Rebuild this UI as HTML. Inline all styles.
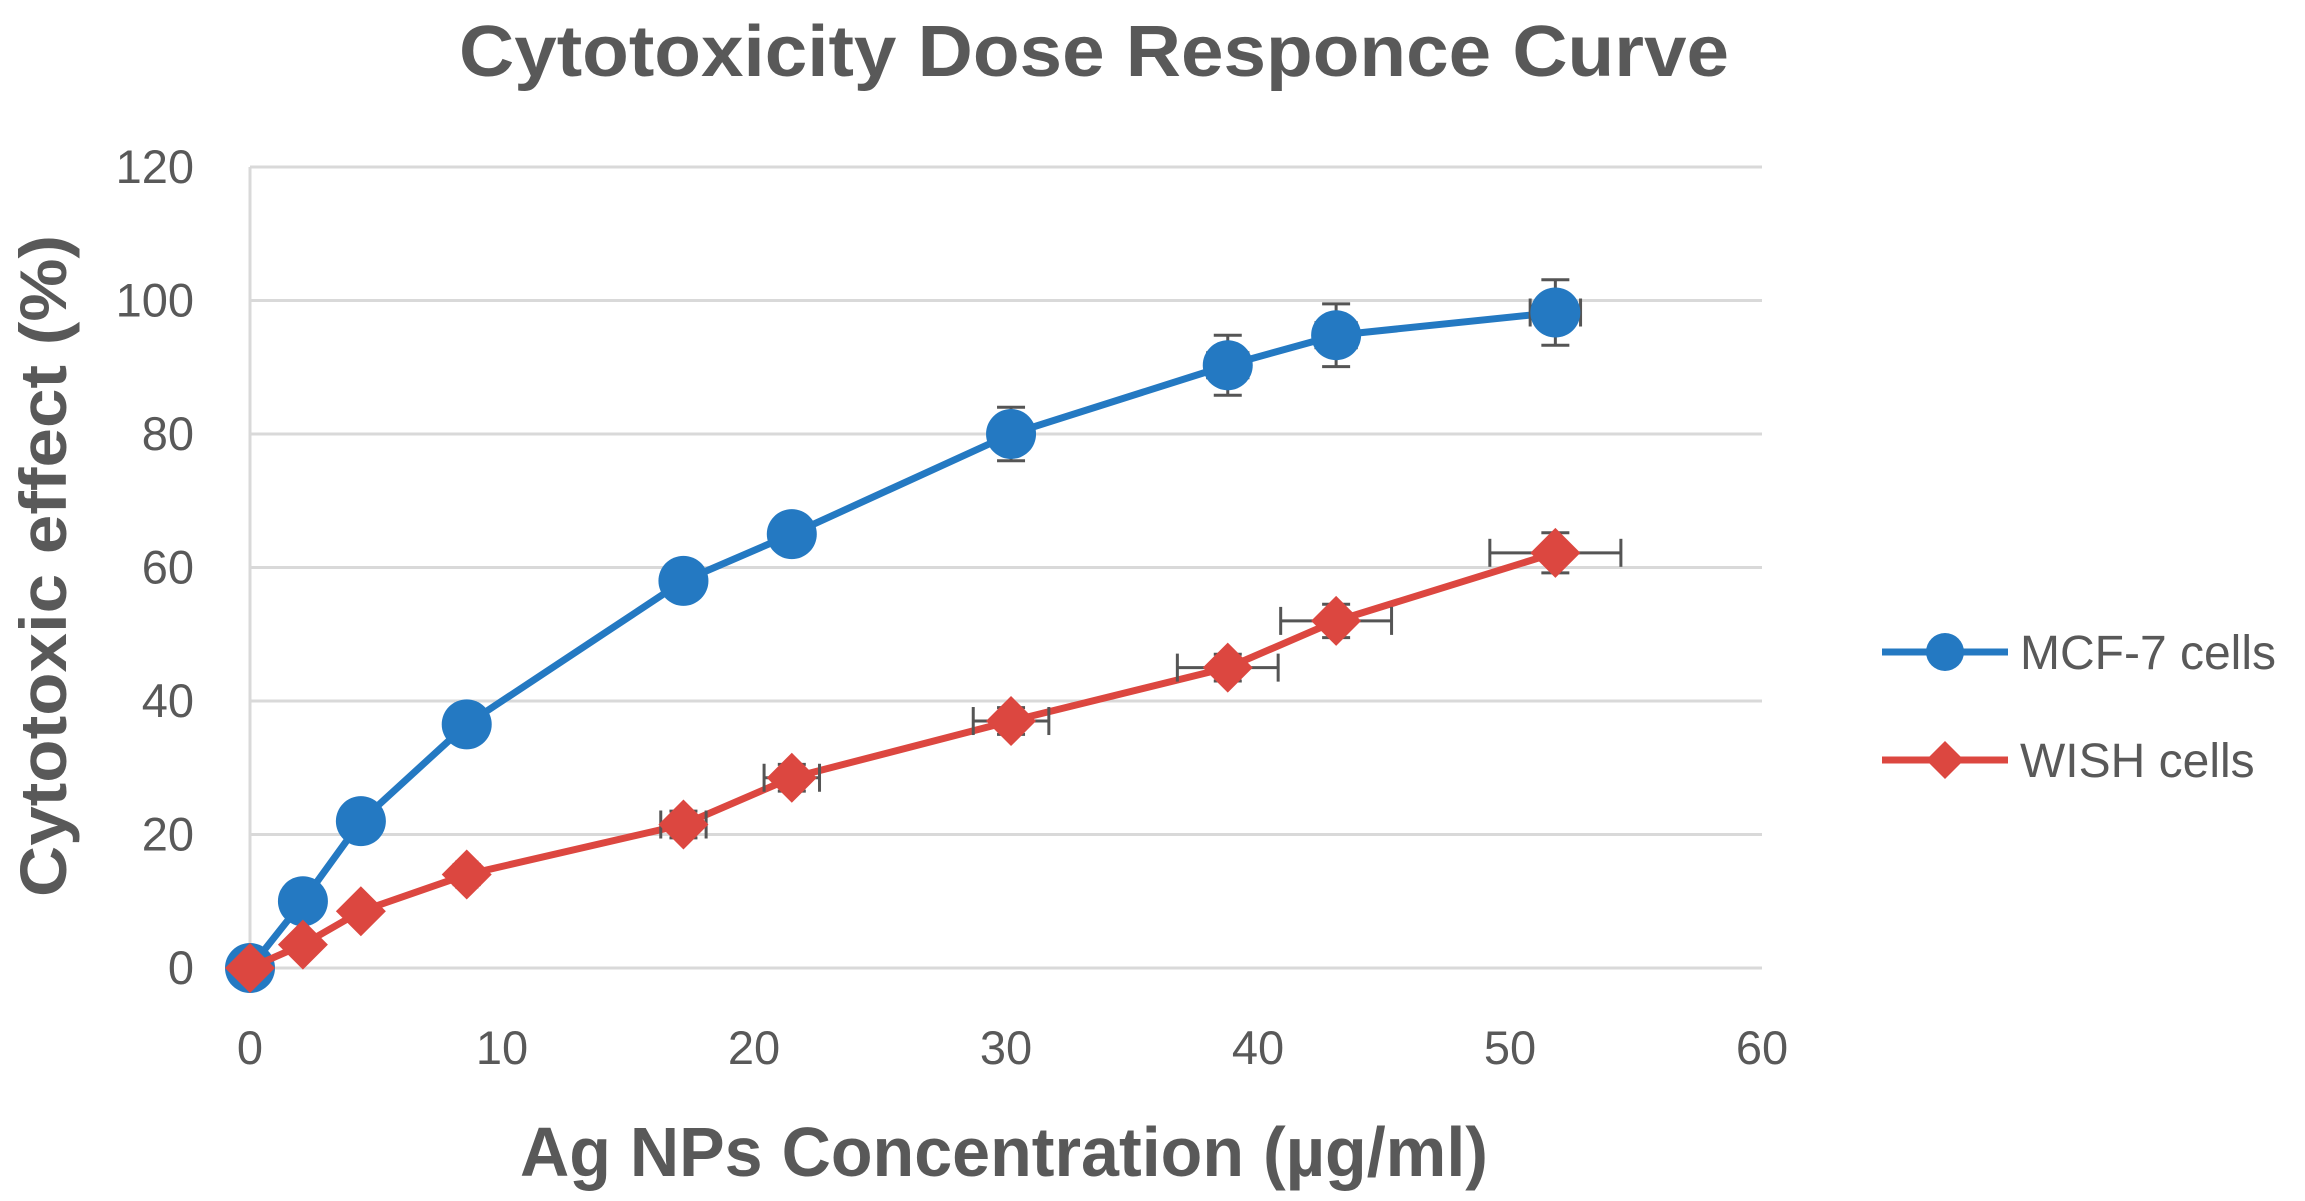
<!DOCTYPE html>
<html><head><meta charset="utf-8"><style>
html,body{margin:0;padding:0;background:#fff;}
svg{display:block;font-family:"Liberation Sans",sans-serif;}
</style></head><body>
<svg id="chart" width="2305" height="1201" viewBox="0 0 2305 1201" xmlns="http://www.w3.org/2000/svg">
<text x="1094" y="76" text-anchor="middle" font-size="72" font-weight="bold" fill="#595959" textLength="1270" lengthAdjust="spacingAndGlyphs">Cytotoxicity Dose Responce Curve</text>
<g id="grid"></g>
<g id="yticks"></g>
<g id="xticks"></g>
<g id="series"></g>
<text x="1004" y="1176" text-anchor="middle" font-size="70" font-weight="bold" fill="#595959" textLength="968" lengthAdjust="spacingAndGlyphs">Ag NPs Concentration (µg/ml)</text>
<text transform="translate(66,566) rotate(-90)" text-anchor="middle" font-size="66" font-weight="bold" fill="#595959" textLength="662" lengthAdjust="spacingAndGlyphs">Cytotoxic effect  (%)</text>
<g>
<g>
<line x1="1882" y1="652" x2="2008" y2="652" stroke="#2479C2" stroke-width="7"/>
<circle cx="1945" cy="652" r="19" fill="#2479C2"/>
<text x="2020" y="669" font-size="48" fill="#595959">MCF-7 cells</text>
</g>
<g>
<line x1="1882" y1="760" x2="2008" y2="760" stroke="#DC4740" stroke-width="7"/>
<polygon points="1945,741 1964,760 1945,779 1926,760" fill="#DC4740"/>
<text x="2020" y="777" font-size="48" fill="#595959">WISH cells</text>
</g>
</g>
</svg>
<script>
const xVals = [0, 2.1, 4.4, 8.6, 17.2, 21.5, 30.2, 38.8, 43.1, 51.8];
const mcfVals = [0, 10, 22, 36.5, 58, 65, 80, 90.3, 94.8, 98.2];
const wishVals = [0, 3.5, 8.5, 14, 21.5, 28.5, 37, 45, 52, 62.2];
const mcfYErr = [0, 2, 2, 2.5, 2.5, 2.5, 4, 4.5, 4.7, 4.9];
const mcfXErr = [0, 0.5, 0.5, 0.5, 0.5, 0.5, 0.6, 0.8, 0.8, 1];
const wishYErr = [0, 1, 1, 1.5, 2, 2, 2, 2, 2.5, 3];
const wishXErr = [0, 0.2, 0.3, 0.4, 0.9, 1.1, 1.5, 2, 2.2, 2.6];
const xTicks = [0, 10, 20, 30, 40, 50, 60];
const yTicks = [0, 20, 40, 60, 80, 100, 120];

const NS = 'http://www.w3.org/2000/svg';
const X0 = 250, X1 = 1762, Y0 = 968, Y1 = 167;
const sx = v => X0 + (v - 0) / 60 * (X1 - X0);
const sy = v => Y0 - (v - 0) / 120 * (Y0 - Y1);
function mk(tag, attrs, parent) {
  const e = document.createElementNS(NS, tag);
  for (const k in attrs) e.setAttribute(k, attrs[k]);
  parent.appendChild(e);
  return e;
}
const grid = document.getElementById('grid');
const yt = document.getElementById('yticks');
const xt = document.getElementById('xticks');
const ser = document.getElementById('series');

yTicks.forEach(t => {
  const l = mk('line', {x1: X0, x2: X1, y1: sy(t), y2: sy(t), stroke: '#d9d9d9', 'stroke-width': 3}, grid);
  
  
  const tx = mk('text', {x: 194, y: sy(t) + 16, 'text-anchor': 'end', 'font-size': 47, fill: '#595959'}, yt);
  tx.textContent = t;
  
  
});
const ax = mk('line', {x1: X0, x2: X0, y1: Y1, y2: Y0, stroke: '#d9d9d9', 'stroke-width': 3}, grid);


xTicks.forEach(t => {
  const tx = mk('text', {x: sx(t), y: 1064, 'text-anchor': 'middle', 'font-size': 47, fill: '#595959'}, xt);
  tx.textContent = t;
  
  
});

function drawSeries(name, ys, yErr, xErr, color, marker) {
  const g = mk('g', {}, ser);
  
  
  let d = '';
  xVals.forEach((x, i) => { d += (i ? 'L' : 'M') + sx(x) + ',' + sy(ys[i]); });
  const p = mk('path', {d: d, fill: 'none', stroke: color, 'stroke-width': 7, 'stroke-linejoin': 'round'}, g);
  
  
  xVals.forEach((x, i) => {
    const cx = sx(x), cy = sy(ys[i]);
    const eg = mk('g', {stroke: '#555', 'stroke-width': 3}, g);
    
    
    if (yErr[i] > 0) {
      const a = sy(ys[i] + yErr[i]), b = sy(ys[i] - yErr[i]);
      mk('line', {x1: cx, x2: cx, y1: a, y2: b}, eg);
      mk('line', {x1: cx - 14, x2: cx + 14, y1: a, y2: a}, eg);
      mk('line', {x1: cx - 14, x2: cx + 14, y1: b, y2: b}, eg);
    }
    if (xErr[i] > 0) {
      const a = sx(x - xErr[i]), b = sx(x + xErr[i]);
      mk('line', {x1: a, x2: b, y1: cy, y2: cy}, eg);
      mk('line', {x1: a, x2: a, y1: cy - 14, y2: cy + 14}, eg);
      mk('line', {x1: b, x2: b, y1: cy - 14, y2: cy + 14}, eg);
    }
  });
  xVals.forEach((x, i) => {
    const cx = sx(x), cy = sy(ys[i]);
    let m;
    if (marker === 'circle') m = mk('circle', {cx: cx, cy: cy, r: 25, fill: color}, g);
    else m = mk('polygon', {points: `${cx},${cy-25} ${cx+25},${cy} ${cx},${cy+25} ${cx-25},${cy}`, fill: color}, g);
    
    
  });
}
drawSeries('mcf7', mcfVals, mcfYErr, mcfXErr, '#2479C2', 'circle');
drawSeries('wish', wishVals, wishYErr, wishXErr, '#DC4740', 'diamond');
</script>
</body></html>
